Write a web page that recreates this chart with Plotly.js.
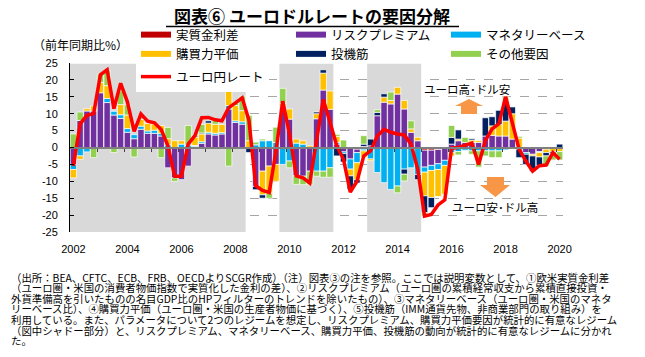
<!DOCTYPE html>
<html><head><meta charset="utf-8">
<script src="https://cdn.plot.ly/plotly-3.0.1.min.js"></script>
<style>html,body{margin:0;padding:0;background:#fff}#chart{width:645px;height:357px}</style>
</head><body><div id="chart"></div>
<script>
// ---- categories (quarters 2002Q1 .. 2020Q1) ----
const quarters = [];
for (let yr = 2002; yr <= 2020; yr++) for (let q = 1; q <= 4; q++) { if (yr === 2020 && q > 1) break; quarters.push(yr + 'Q' + q); }
const yearLabels = ['2002','2004','2006','2008','2010','2012','2014','2016','2018','2020'];
const yTickVals = [-25,-20,-15,-10,-5,0,5,10,15,20,25];
const yTickText = ['-25','-20','-15','-10','-5','0','5','10','15','20','25'];
const shadeRegimes = [['2002Q1','2008Q2'],['2009Q4','2011Q3'],['2013Q1','2014Q4']];

// ---- series (前年同期比%) ----
const realRateDiff = [0,0,0,0,0,0,0,0,0,0, 0,0,0,0,0,0,0,0,0,0, 0,0,0,0,0,0,0,0,0,0, 0,0,0,0,0,0,0,0,0,0, -0.3,0,-0.5,-0.5,0,0,0,0,0,0, 0,0,-0.8,-0.8,-0.6,-0.3,0,0,0,0, 0,0,0,0,0,0,0,0,0,0, 0,0,0];
const riskPremium = [-5,8,10.8,10.8,16.2,13.3,9.6,8.6,4.5,2.6, 5.4,4.2,4.2,3.4,-6,-9,-9.5,-5.5,0.3,1.2, 4,3.7,4,11.4,7.4,6.9,0,-11.5,-7,-5.5, -5,12,8.4,-8.4,-8.5,-7,8.5,17,11.3,1, -1,-3.4,-1,0.3,0.5,9.4,13.4,12.9,15.8,11.4, 4.5,2,-5,-4.5,-4.2,-3.5,1,2,1.5,1.5, 1.5,3.4,3.6,3.4,3.4,2.5,0,-1.5,-2,-1.2, -0.5,0,0];
const monetaryBase = [-1.5,-2.5,-1.3,0,0,1.2,1.1,1.1,1.1,1.2, 0.9,0.7,0.9,0.8,0.8,0,1,0.7,0.3,0.5, 0.5,0.5,0.4,1,0.5,0.7,0,0.8,2,2, 1.5,-5,-4,1.3,1,0,-7,-7,-6,0.5, -0.5,-3,-3,-0.5,-3.4,-7.4,-10.4,-12.4,-11.4,-6.4, -6,-8,-1.5,-1.5,-1.7,-1.5,-1.5,-1.2,-0.8,-1, -1,-1,-1,-1,-0.7,0,-0.5,-0.5,0,-0.3, 0,0,0];
const ppp = [-2.5,-1,0.7,1.5,3,3.8,0,3,4,0, 2,2.2,1.8,2.3,1.8,2,1,0,2.5,2.3, 2.7,2.7,2.4,5,4.5,3.3,2,0,-7,-8, -5,1,3,1.2,1,0.5,1.5,5,5.4,1.8, 0,-2,-5,-2,-0.5,0,1.5,1,2,2.5, 1,1,-7,-8,-8,-8.5,-1,0.5,0,0.7, 0.5,0,2.8,3.4,4.4,7.5,2.8,0,-0.5,-1.3, -1,-1.2,-1.2];
const speculators = [0,0,0,0,0,0,0,0,0,0, 0,0,0,0,0,0,0,0,0.3,0.3, 0.7,0,0,0,0,-0.5,-1.5,-1,-1,0, 0,0,0,0,0,0,0.5,1,0,-2.5, -2.5,-4,-1,0.7,2,1,1,0,0,-1.5, 0,-1.5,-5,-3,0,0,2,2.7,0,0.4, 0,5.4,2.7,4.2,5.9,2,-2.5,-3,-4.5,-2.5, -1,-0.5,1];
const others = [4,2.5,0,-3,2.5,4.5,-1.5,4,3,-2.8, 0.5,-0.5,0,-3,3.3,-1,0,5.8,0,2.5, 0,1.2,0,-5.5,0.8,4.3,7.5,0.8,0.5,-1.5, 4.5,4.5,-2,-2.5,-2.5,-4,-1.5,-1.8,-2.8,0.6, 2.2,0,0,2.5,0,0.8,0,2.5,-2,-2, 2.4,0,-1,0,0,0,3.5,-1,1.5,-1, -4.8,-1.5,-2,-2,1.3,0,0.5,0,0,0, -3,-2,-2.5];
const eurRate = [-5.5,7,9.5,10,21.5,23,11.5,19,13.5,4.8, 9.9,7.8,7.3,5.3,0.5,-8.5,-8.5,1,3.5,8.8, 8.9,8.2,7.9,11.8,13.2,14.7,8,-11.3,-12.7,-13.3, -1,13.7,4,-8.4,-9,-10.5,2,14.2,7.5,0.5, -3.5,-13.2,-10,-2.5,-1,3.4,5.4,4.5,4,3.7, 1,-6.5,-20.3,-19.8,-17,-15.5,-0.2,0,0.7,1.3, -5,2,5.5,7,15,7.5,-0.5,-4,-7,-5.4, -5.2,-1.5,-3.5];

const seriesNames = ['実質金利差','リスクプレミアム','マネタリーベース','購買力平価','投機筋','その他要因'];
const seriesColors = ['#c00000','#7030a0','#00b0f0','#ffc000','#002060','#92d050'];
const seriesVals = [realRateDiff, riskPremium, monetaryBase, ppp, speculators, others];

const xs = quarters.map((_, i) => i);
const traces = [];
seriesVals.forEach((vals, k) => {
  traces.push({type:'bar', x: xs, y: vals.map(v => v === 0 ? null : v), name: seriesNames[k],
    marker:{color: seriesColors[k], line:{color:'#ffffff', width:0.7}}, showlegend:false, hoverinfo:'skip'});
});
seriesNames.forEach((n, k) => {
  traces.push({type:'scatter', mode:'lines', x:[null], y:[null], name:n, line:{color:seriesColors[k], width:6}, legend:'legend', hoverinfo:'skip'});
});
traces.push({type:'scatter', mode:'lines', x: xs, y: eurRate, name:'ユーロ円レート', line:{color:'#ff0000', width:3.5}, xaxis:'x2', legend:'legend2', hoverinfo:'skip'});

const tickIdx = yearLabels.map(y => quarters.indexOf(y + 'Q1'));
const yearBounds = [];
quarters.forEach((q, i) => { if (i > 0 && q.endsWith('Q1')) yearBounds.push(i - 0.5); });

const PL = 70, PT = 63, PW = 493, PH = 169;
const px2x = px => (px - PL) / PW;
const py2y = py => (PT + PH - py) / PH;

const shapes = shadeRegimes.map(([a, b]) => ({type:'rect', xref:'x', yref:'y', x0: quarters.indexOf(a) - 0.5, x1: quarters.indexOf(b) + 0.5, y0:-25, y1:24.8, fillcolor:'#d9d9d9', line:{width:0}, layer:'between'}));
shapes.push({type:'path', xref:'paper', yref:'paper', path:'M 0.7931,0.6982 L 0.7931,0.7456 L 0.7809,0.7456 L 0.8093,0.787 L 0.8377,0.7456 L 0.8256,0.7456 L 0.8256,0.6982 Z', fillcolor:'#f79646', line:{width:0}, layer:'above'});
shapes.push({type:'path', xref:'paper', yref:'paper', path:'M 0.8458,0.3254 L 0.8803,0.3254 L 0.8803,0.2781 L 0.8925,0.2781 L 0.8631,0.2071 L 0.8316,0.2781 L 0.8458,0.2781 Z', fillcolor:'#f79646', line:{width:0}, layer:'above'});
// title underline
shapes.push({type:'line', xref:'paper', yref:'paper', x0:px2x(166), x1:px2x(459), y0:py2y(26.5), y1:py2y(26.5), line:{color:'#000', width:1.5}, layer:'above'});

const JP = 'Noto Sans CJK JP';
const notes = [
 '（出所：BEA、CFTC、ECB、FRB、OECDよりSCGR作成）（注）図表③の注を参照。ここでは説明変数として、①欧米実質金利差',
 '（ユーロ圏・米国の消費者物価指数で実質化した金利の差）、②リスクプレミアム（ユーロ圏の累積経常収支から累積直接投資・',
 '外貨準備高を引いたものの名目GDP比のHPフィルターのトレンドを除いたもの）、③マネタリーベース（ユーロ圏・米国のマネタ',
 'リーベース比）、④購買力平価（ユーロ圏・米国の生産者物価に基づく）、⑤投機筋（IMM通貨先物、非商業部門の取り組み）を',
 '利用している。また、パラメータについて2つのレジームを想定し、リスクプレミアム、購買力平価要因が統計的に有意なレジーム',
 '（図中シャドー部分）と、リスクプレミアム、マネタリーベース、購買力平価、投機筋の動向が統計的に有意なレジームに分かれ',
 'た。'
];
const annotations = notes.map((t, i) => ({xref:'paper', yref:'paper', x: px2x(9), y: py2y(277 + i * 10.6), xanchor:'left', yanchor:'middle', text:t, showarrow:false, font:{family:JP, size:10.4, color:'#000'}}));
annotations.push({xref:'paper', yref:'paper', x: px2x(80), y: py2y(45), xanchor:'center', yanchor:'middle', text:'（前年同期比%）', showarrow:false, font:{family:JP, size:12, color:'#000'}});
annotations.push({xref:'paper', yref:'paper', x: px2x(467), y: py2y(89), xanchor:'center', yanchor:'middle', text:'ユーロ高･ドル安', showarrow:false, font:{family:JP, size:11.5, color:'#000'}});
annotations.push({xref:'paper', yref:'paper', x: px2x(495), y: py2y(207), xanchor:'center', yanchor:'middle', text:'ユーロ安･ドル高', showarrow:false, font:{family:JP, size:11.5, color:'#000'}});

const layout = {
  width:645, height:357, margin:{l:PL, r:645-PL-PW, t:PT, b:357-PT-PH, pad:0, autoexpand:false},
  paper_bgcolor:'#ffffff', plot_bgcolor:'#ffffff',
  barmode:'relative', bargap:0.06,
  font:{family:JP, size:12, color:'#000'},
  title:{text:'<b>図表⑥ ユーロドルレートの要因分解</b>', xref:'container', yref:'container', x:312/645, y:1-17/357, xanchor:'center', yanchor:'middle', font:{family:JP, size:17, color:'#000'}},
  xaxis:{range:[-0.5,72.5], tickvals:tickIdx, ticktext:yearLabels, showgrid:false, zeroline:false, showline:false, ticks:'', ticklabelstandoff:9, tickfont:{family:'Liberation Sans', size:11, color:'#000'}},
  xaxis2:{overlaying:'x', anchor:'free', position:0.5, range:[-0.5,72.5], showgrid:false, zeroline:false, showline:true, linecolor:'#7f7f7f', linewidth:2, ticks:'outside', ticklen:3, tickwidth:1, tickcolor:'#404040', tickvals:yearBounds, showticklabels:false},
  yaxis:{range:[-25,25], tickvals:yTickVals, ticktext:yTickText, showgrid:true, gridcolor:'#a6a6a6', griddash:'dash', gridwidth:1, zeroline:false, showline:true, linecolor:'#000', linewidth:1, ticks:'inside', ticklen:4, tickcolor:'#000', ticklabelstandoff:9, tickfont:{family:'Liberation Sans', size:11, color:'#000'}},
  legend:{orientation:'h', xref:'container', yref:'container', x:136/645, y:1-20/357, xanchor:'left', yanchor:'top', entrywidth:110, entrywidthmode:'pixels', bgcolor:'rgba(0,0,0,0)', font:{family:JP, size:12.5, color:'#000'}, itemwidth:30, traceorder:'normal'},
  legend2:{orientation:'h', xref:'container', yref:'container', x:136/645, y:1-62/357, xanchor:'left', yanchor:'top', bgcolor:'#ffffff', font:{family:JP, size:12.5, color:'#000'}, itemwidth:30},
  shapes: shapes,
  annotations: annotations
};
Plotly.newPlot('chart', traces, layout, {displayModeBar:false, staticPlot:true});
</script></body></html>
